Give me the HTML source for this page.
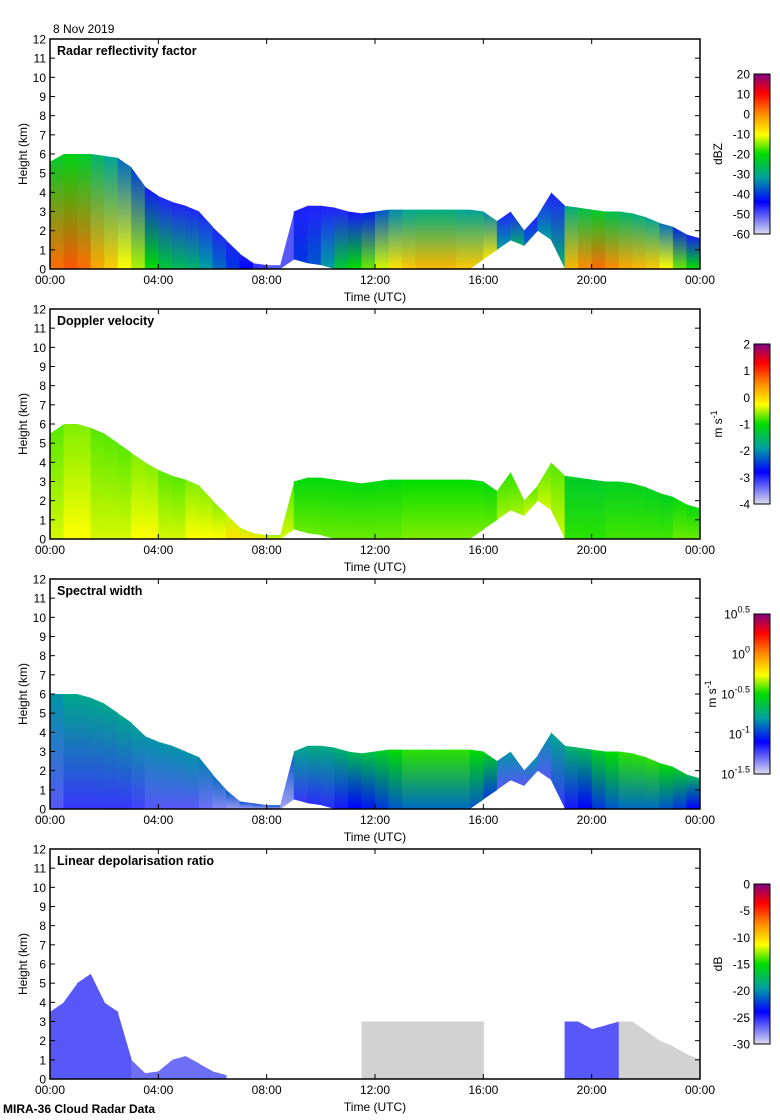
<!DOCTYPE html>
<html><head><meta charset="utf-8"><style>
body{margin:0;background:#fff;}
svg{display:block;font-family:"Liberation Sans",sans-serif;}
</style></head><body>
<svg id="fig" width="780" height="1120" viewBox="0 0 780 1120" xmlns="http://www.w3.org/2000/svg">
<defs id="defs"></defs>
<text x="53" y="33" font-size="12">8 Nov 2019</text>
<text x="3" y="1113" font-size="12" font-weight="bold">MIRA-36 Cloud Radar Data</text>
</svg>
<script>
const hours = [0,0.5,1,1.5,2,2.5,3,3.5,4,4.5,5,5.5,6,6.5,7,7.5,8,8.5,9,9.5,10,10.5,11,11.5,12,12.5,13,13.5,14,14.5,15,15.5,16,16.5,17,17.5,18,18.5,19,19.5,20,20.5,21,21.5,22,22.5,23,23.5,24];
const xTickLabels = ["00:00","04:00","08:00","12:00","16:00","20:00","00:00"];
const yTicks = [0,1,2,3,4,5,6,7,8,9,10,11,12];
const titles = ["Radar reflectivity factor","Doppler velocity","Spectral width","Linear depolarisation ratio"];
const units = ["dBZ","m s","m s","dB"];
const cbLabels = [["20","10","0","-10","-20","-30","-40","-50","-60"],["2","1","0","-1","-2","-3","-4"],["0.5","0","-0.5","-1","-1.5"],["0","-5","-10","-15","-20","-25","-30"]];
const tops1 = [5.6,6,6,6,5.9,5.8,5.3,4.3,3.8,3.5,3.3,3,2.2,1.5,0.8,0.3,0.2,0.2,3,3.3,3.3,3.2,3,2.9,3,3.1,3.1,3.1,3.1,3.1,3.1,3.1,3,2.5,3,2,2.8,4,3.3,3.2,3.1,3,3,2.9,2.7,2.4,2.2,1.8,1.6];
const bases1 = [0,0,0,0,0,0,0,0,0,0,0,0,0,0,0,0,0,0,0.5,0.3,0.2,0,0,0,0,0,0,0,0,0,0,0,0.5,1,1.5,1.2,2,1.5,0,0,0,0,0,0,0,0,0,0,0];
const vals1 = [.78,.8,.78,.72,.68,.62,.58,.5,.45,.42,.4,.35,.3,.25,.2,.15,.12,.12,.25,.28,.35,.45,.5,.55,.6,.65,.68,.7,.7,.7,.68,.68,.65,.35,.4,.3,.35,.4,.7,.75,.78,.75,.72,.7,.68,.62,.55,.5,.45];
const tops2 = [5.5,6,6,5.8,5.5,5,4.5,4,3.6,3.3,3.1,2.8,2,1.3,0.6,0.3,0.2,0.2,3,3.2,3.2,3.1,3,2.9,3,3.1,3.1,3.1,3.1,3.1,3.1,3.1,3,2.5,3.5,2,2.8,4,3.3,3.2,3.1,3,3,2.9,2.7,2.4,2.2,1.8,1.6];
const vals2 = [.6,.62,.62,.6,.6,.6,.62,.62,.6,.6,.62,.62,.62,.65,.65,.65,.62,.6,.55,.55,.55,.55,.55,.55,.55,.55,.56,.56,.56,.56,.56,.56,.55,.58,.58,.6,.6,.6,.52,.52,.52,.53,.53,.53,.53,.53,.55,.55,.55];
const tops3 = [6,6,6,5.8,5.5,5,4.5,3.8,3.5,3.3,3,2.7,1.8,1,0.4,0.3,0.2,0.2,3,3.3,3.3,3.2,3,2.9,3,3.1,3.1,3.1,3.1,3.1,3.1,3.1,3,2.5,3,2,2.8,4,3.3,3.2,3.1,3,3,2.9,2.7,2.4,2.2,1.8,1.6];
const vals3 = [.12,.15,.15,.15,.15,.15,.14,.12,.12,.12,.12,.1,.08,.06,.05,.05,.05,.05,.15,.16,.16,.18,.2,.22,.25,.28,.3,.3,.3,.3,.3,.28,.25,.12,.12,.12,.12,.15,.18,.2,.25,.28,.3,.3,.3,.28,.25,.2,.18];
const tops4 = [3.5,4,5,5.5,4,3.5,1,0.3,0.4,1,1.2,0.8,0.4,0.2,0,0,0,0,0,0,0,0,0,3,3,3,3,3,3,3,3,3,3,0,0,0,0,0,3,3,2.6,2.8,3,3,2.5,2,1.7,1.3,1];
const vals4 = [.12,.12,.12,.12,.12,.12,.1,.1,.1,.1,.1,.1,.1,.1,.1,0,0,0,0,0,0,0,0,-1,-1,-1,-1,-1,-1,-1,-1,-1,-1,0,0,0,0,0,.12,.12,.12,.12,-1,-1,-1,-1,-1,-1,-1];
const zeros = hours.map(()=>0);
const panels = [
 {tops:tops1,bases:bases1,vals:vals1,delta:-0.32},
 {tops:tops2,bases:bases1,vals:vals2,delta:-0.06},
 {tops:tops3,bases:bases1,vals:vals3,delta:0.22},
 {tops:tops4,bases:zeros,vals:vals4,delta:0}
];
const stops=[[0,[220,220,238]],[0.2,[0,0,255]],[0.35,[0,160,160]],[0.5,[0,220,0]],[0.62,[255,255,0]],[0.75,[255,140,0]],[0.88,[255,0,0]],[1,[128,0,128]]];
function cmap(f){
  if(f<0) return "rgb(210,210,210)";
  f=Math.max(0,Math.min(1,f));
  for(let i=1;i<stops.length;i++){ if(f<=stops[i][0]){const a=stops[i-1],b=stops[i];const t=(f-a[0])/(b[0]-a[0]);const c=a[1].map((v,k)=>Math.round(v+(b[1][k]-v)*t));return `rgb(${c})`;}}
  return "rgb(128,0,128)";
}
const NS="http://www.w3.org/2000/svg";
const svg=document.getElementById('fig'), defs=document.getElementById('defs');
function el(tag,attrs,parent){const e=document.createElementNS(NS,tag);for(const k in attrs)e.setAttribute(k,attrs[k]);(parent||svg).appendChild(e);return e;}
const X0=50,X1=700,PH=230;
const xs=h=>X0+(h/24)*(X1-X0);
panels.forEach((p,pi)=>{
  const top=39+pi*270, bot=top+PH;
  const ys=v=>bot-(v/12)*PH;
  const g=el('g',{});
  
  
  for(let i=0;i<hours.length-1;i++){
    const t0=p.tops[i],t1=p.tops[i+1],b0=p.bases[i],b1=p.bases[i+1];
    if(t0<=b0||t1<=b1) continue;
    const v=p.vals[i];
    const id='gr'+pi+'_'+i;
    const lg=el('linearGradient',{id:id,x1:0,y1:1,x2:0,y2:0},defs);
    el('stop',{offset:0,'stop-color':cmap(v)},lg);
    el('stop',{offset:1,'stop-color':cmap(v<0?v:Math.max(Math.min(v,0.17),v+p.delta))},lg);
    const poly=el('polygon',{points:`${xs(hours[i])},${ys(b0)} ${xs(hours[i])},${ys(t0)} ${xs(hours[i+1])+0.5},${ys(t1)} ${xs(hours[i+1])+0.5},${ys(b1)}`,fill:`url(#${id})`},g);
    
    
  }
  const fr=el('rect',{x:X0,y:top,width:X1-X0,height:PH,fill:'none',stroke:'#000','stroke-width':1.5});
  
  
  yTicks.forEach(v=>{
    el('line',{x1:X0,x2:X0+5,y1:ys(v),y2:ys(v),stroke:'#000'});
    el('line',{x1:X1-5,x2:X1,y1:ys(v),y2:ys(v),stroke:'#000'});
    const t=el('text',{x:X0-4,y:ys(v)+4.5,'font-size':12,'text-anchor':'end'});t.textContent=v;
    
    
  });
  xTickLabels.forEach((l,i)=>{
    const x=xs(i*4);
    el('line',{x1:x,x2:x,y1:bot,y2:bot-5,stroke:'#000'});
    el('line',{x1:x,x2:x,y1:top,y2:top+5,stroke:'#000'});
    const t=el('text',{x:x,y:bot+15,'font-size':12,'text-anchor':'middle'});t.textContent=l;
    
    
  });
  const xt=el('text',{x:375,y:bot+32,'font-size':12,'text-anchor':'middle'});xt.textContent='Time (UTC)';
  
  
  const yt=el('text',{x:0,y:0,'font-size':12,'text-anchor':'middle',transform:`translate(27,${top+PH/2}) rotate(-90)`});yt.textContent='Height (km)';
  
  
  const tt=el('text',{x:57,y:top+16,'font-size':12.5,'font-weight':'bold'});tt.textContent=titles[pi];
  
  
  const cy0=top+35;
  const cg=el('linearGradient',{id:'cb'+pi,x1:0,y1:1,x2:0,y2:0},defs);
  stops.forEach(s=>el('stop',{offset:s[0],'stop-color':`rgb(${s[1]})`},cg));
  const cb=el('rect',{x:754,y:cy0,width:16,height:160,fill:`url(#cb${pi})`,stroke:'#000','stroke-width':1});
  
  
  const labs=cbLabels[pi];
  labs.forEach((l,i)=>{
    const y=cy0+i*160/(labs.length-1);
    const t=el('text',{x:750,y:y+4.5,'font-size':12,'text-anchor':'end'});
    if(pi===2){t.textContent='10';const s=el('tspan',{dy:-6,'font-size':9},t);s.textContent=l;}
    else t.textContent=l;
    
    
  });
  const ut=el('text',{x:0,y:0,'font-size':12,'text-anchor':'middle',transform:`translate(${pi===2?716:722},${cy0+80}) rotate(-90)`});
  ut.textContent=units[pi];
  if(pi===1||pi===2){const s=el('tspan',{dy:-5,'font-size':9},ut);s.textContent='-1';}
  
  
});
</script>
</body></html>
